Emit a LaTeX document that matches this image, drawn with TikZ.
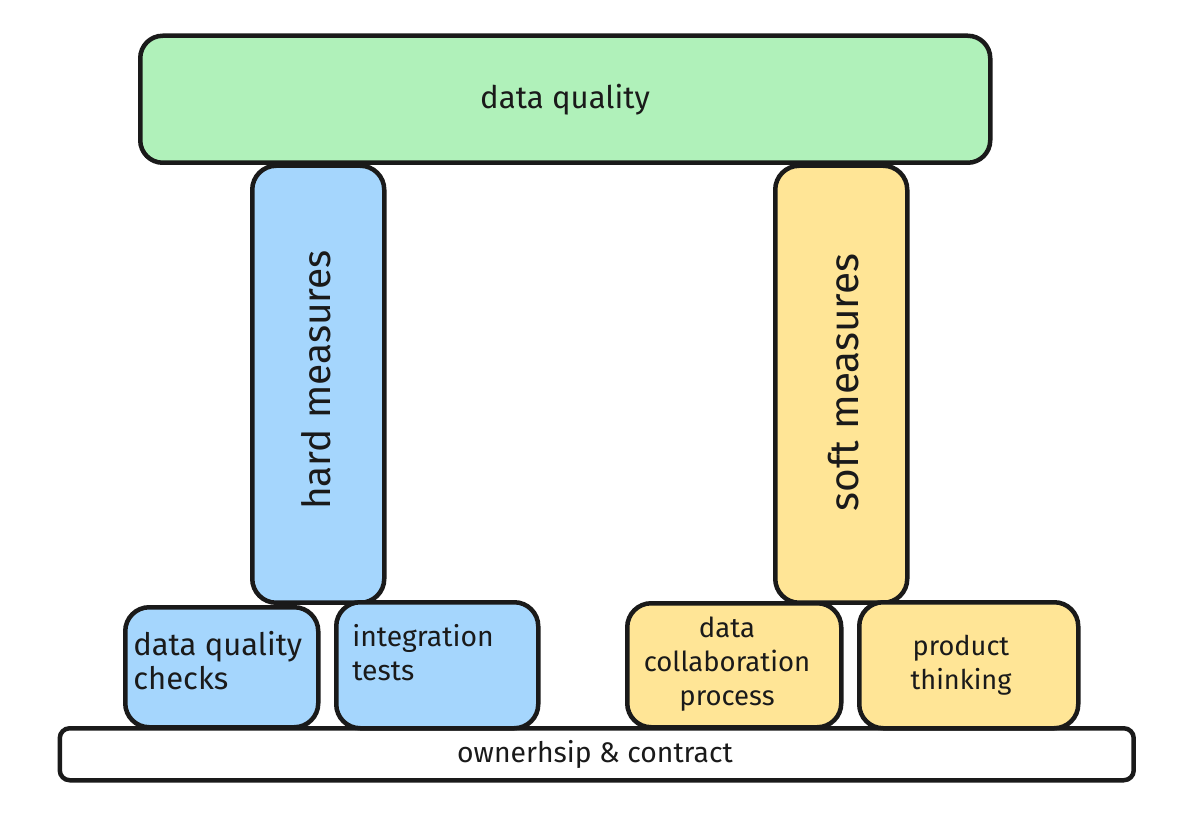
\documentclass[tikz,border=0pt]{standalone}
\usepackage{fontspec}
\setmainfont{Fira Sans}
\definecolor{grn}{HTML}{B0F1BA}
\definecolor{blu}{HTML}{A5D6FD}
\definecolor{yel}{HTML}{FFE596}
\definecolor{ink}{HTML}{1A1A1A}
\tikzset{
 box/.style={draw=ink,line width=2.7pt,rounded corners=#1,inner sep=0pt,anchor=north west},
 box/.default=14.4pt,
 lbl/.style 2 args={text=ink,inner sep=0pt,font=\fontsize{#1pt}{#2pt}\selectfont}}
\begin{document}
\begin{tikzpicture}[x=0.6pt,y=-0.6pt]
\useasboundingbox[fill=white] (0,0) rectangle (1200,813);
\node[box=13.5pt,fill=white,minimum width=644.4pt,minimum height=31.2pt,rounded corners=6pt] (oc) at (57.5,726) {};
\node[box,fill=grn,minimum width=510pt,minimum height=76.2pt,rounded corners=13.5pt] (dq) at (138,33.5) {};
\node[box,fill=blu,minimum width=79.2pt,minimum height=262.2pt] (hm) at (250,163.5) {};
\node[box,fill=yel,minimum width=79.2pt,minimum height=262.2pt] (sm) at (773,163.5) {};
\node[box,fill=blu,minimum width=115.8pt,minimum height=72pt] (dc) at (123,605) {};
\node[box,fill=blu,minimum width=121.2pt,minimum height=75.6pt] (it) at (334,600) {};
\node[box,fill=yel,minimum width=128.4pt,minimum height=74.4pt] (cp) at (625,601) {};
\node[box,fill=yel,minimum width=131.4pt,minimum height=75.6pt] (pt) at (857,600) {};
\node[lbl={18.7}{20.4}] (dqt) at (565,100) {data quality};
\node[lbl={23.3}{28},rotate=90] (hmt) at (316,380) {hard measures};
\node[lbl={24.3}{28},rotate=90] (smt) at (844,382.5) {soft measures};
\node[lbl={18.6}{20.4},align=left,anchor=west] (dct) at (133,661) {data quality\\checks};
\node[lbl={17}{20.4},align=left,anchor=west] (itt) at (352,652.5) {integration\\tests};
\node[lbl={16.5}{20.4},align=center] (cpt) at (727,664) {data\\collaboration\\process};
\node[lbl={16.3}{20.4},align=center] (ptt) at (961,665.5) {product\\thinking};
\node[lbl={17}{20.4}] (oct) at (595,754) {ownerhsip \& contract};
\end{tikzpicture}
\end{document}
